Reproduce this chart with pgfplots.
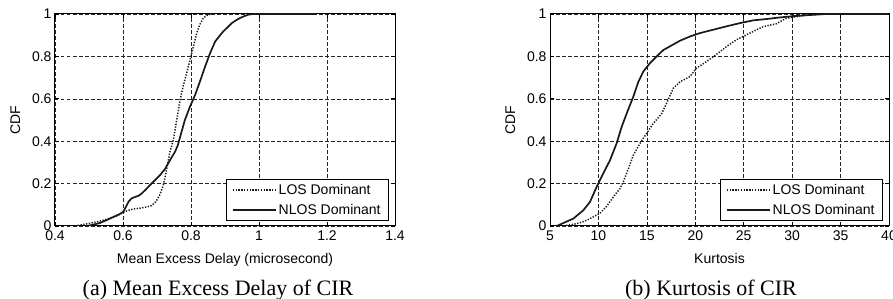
\documentclass[border=0pt]{standalone}
\usepackage{fontspec}
\setmainfont{Liberation Sans}
\newfontfamily\capfont{Liberation Serif}
\usepackage{pgfplots}
\pgfplotsset{compat=1.18}
\pgfplotsset{
  cdfstyle/.style={
    scale only axis,
    height=212pt,
    ymin=0, ymax=1,
    ytick={0,0.2,0.4,0.6,0.8,1},
    yticklabels={0,0.2,0.4,0.6,0.8,1},
    ylabel={CDF},
    grid=major,
    major grid style={black!85, line width=0.5pt, dash pattern=on 3.5pt off 2.5pt},
    axis line style={black, line width=1pt},
    tick style={black, line width=0.6pt},
    major tick length=4pt,
    tick label style={font=\fontsize{14}{16}\selectfont},
    label style={font=\fontsize{14}{16}\selectfont},
    /pgf/number format/assume math mode=true,
    xticklabel style={yshift=-1pt},
    xlabel style={yshift=-6pt},
    ylabel style={yshift=5pt},
    legend style={at={(1,0)}, anchor=south east, xshift=-6pt, yshift=5pt,
      draw=black, line width=0.7pt, fill=white, font=\fontsize{14}{16}\selectfont,
      inner xsep=6pt, inner ysep=3pt, row sep=4pt},
    legend cell align=left,
    legend image code/.code={\draw[#1] (0pt,0pt) -- (43pt,0pt);},
    los/.style={black!90, line width=1.5pt, dash pattern=on 1.3pt off 1.5pt},
    nlos/.style={black!90, line width=1.7pt},
  }
}
\begin{document}
\begin{tikzpicture}
\useasboundingbox (0pt,0pt) rectangle (893pt,299pt);
\begin{axis}[cdfstyle, at={(55pt,73pt)}, anchor=south west, width=340pt,
  xmin=0.4, xmax=1.4, xtick={0.4,0.6,0.8,1,1.2,1.4},
  xticklabels={0.4,0.6,0.8,1,1.2,1.4},
  xlabel={Mean Excess Delay (microsecond)}]
\addplot[los] coordinates {
(0.459,0) (0.48,0.006) (0.50,0.012) (0.53,0.022) (0.56,0.036) (0.585,0.05) (0.60,0.064)
(0.615,0.074) (0.63,0.080) (0.65,0.084) (0.67,0.090) (0.684,0.096) (0.697,0.115)
(0.709,0.150) (0.718,0.190) (0.724,0.232) (0.731,0.290) (0.738,0.350) (0.748,0.405)
(0.758,0.500) (0.768,0.595) (0.777,0.660) (0.787,0.720) (0.795,0.770) (0.802,0.815)
(0.810,0.865) (0.817,0.910) (0.826,0.950) (0.836,0.980) (0.846,0.993) (0.856,0.998) (0.870,1)
};
\addlegendentry{LOS Dominant}
\addplot[nlos] coordinates {
(0.493,0) (0.512,0.006) (0.532,0.014) (0.552,0.028) (0.572,0.043) (0.590,0.056) (0.600,0.066)
(0.608,0.088) (0.616,0.114) (0.625,0.130) (0.635,0.137) (0.645,0.142) (0.655,0.153)
(0.667,0.172) (0.679,0.192) (0.694,0.216) (0.709,0.240) (0.724,0.270) (0.738,0.310)
(0.753,0.350) (0.761,0.380) (0.768,0.420) (0.775,0.460) (0.782,0.500) (0.797,0.563)
(0.812,0.618) (0.826,0.680) (0.841,0.750) (0.856,0.815) (0.871,0.870) (0.883,0.895)
(0.895,0.918) (0.908,0.938) (0.920,0.957) (0.932,0.970) (0.944,0.981) (0.957,0.990)
(0.969,0.997) (0.983,1) (1.17,1)
};
\addlegendentry{NLOS Dominant}
\end{axis}
\node[font=\capfont\fontsize{22}{24}\selectfont, anchor=base] at (218pt,3pt) {(a) Mean Excess Delay of CIR};
\begin{axis}[cdfstyle, at={(550pt,73pt)}, anchor=south west, width=339pt,
  xmin=5, xmax=40, xtick={5,10,15,20,25,30,35,40},
  xlabel={Kurtosis}]
\addplot[los] coordinates {
(6.38,0) (7.0,0.005) (7.75,0.011) (8.3,0.018) (8.79,0.027) (9.47,0.043) (10.16,0.060)
(10.85,0.093) (11.54,0.137) (12.23,0.177) (12.57,0.208) (13.09,0.270) (13.6,0.334)
(14.29,0.390) (14.98,0.437) (15.67,0.484) (16.53,0.530) (17.04,0.579) (17.73,0.650)
(18.42,0.680) (19.45,0.705) (20.14,0.745) (21.17,0.776) (22.2,0.810) (23.24,0.847)
(24.27,0.879) (25.3,0.902) (26.34,0.926) (27.0,0.940) (28.37,0.954) (29.4,0.980)
(30.4,0.987) (31.8,0.997) (33.2,1) (39.9,1)
};
\addlegendentry{LOS Dominant}
\addplot[nlos] coordinates {
(5.69,0) (6.38,0.014) (7.41,0.035) (8.44,0.074) (9.13,0.114) (9.82,0.185) (10.5,0.248)
(11.19,0.310) (11.88,0.390) (12.4,0.468) (12.91,0.530) (13.6,0.610) (14.12,0.680)
(14.64,0.729) (15.32,0.768) (16.01,0.800) (16.7,0.830) (17.56,0.852) (18.42,0.874)
(19.45,0.894) (20.49,0.910) (21.86,0.926) (23.24,0.942) (24.61,0.957) (25.99,0.970)
(27.71,0.978) (28.37,0.982) (30.1,0.990) (31.8,0.995) (33.5,1) (39.9,1)
};
\addlegendentry{NLOS Dominant}
\end{axis}
\node[font=\capfont\fontsize{22}{24}\selectfont, anchor=base] at (711pt,3pt) {(b) Kurtosis of CIR};
\end{tikzpicture}
\end{document}
